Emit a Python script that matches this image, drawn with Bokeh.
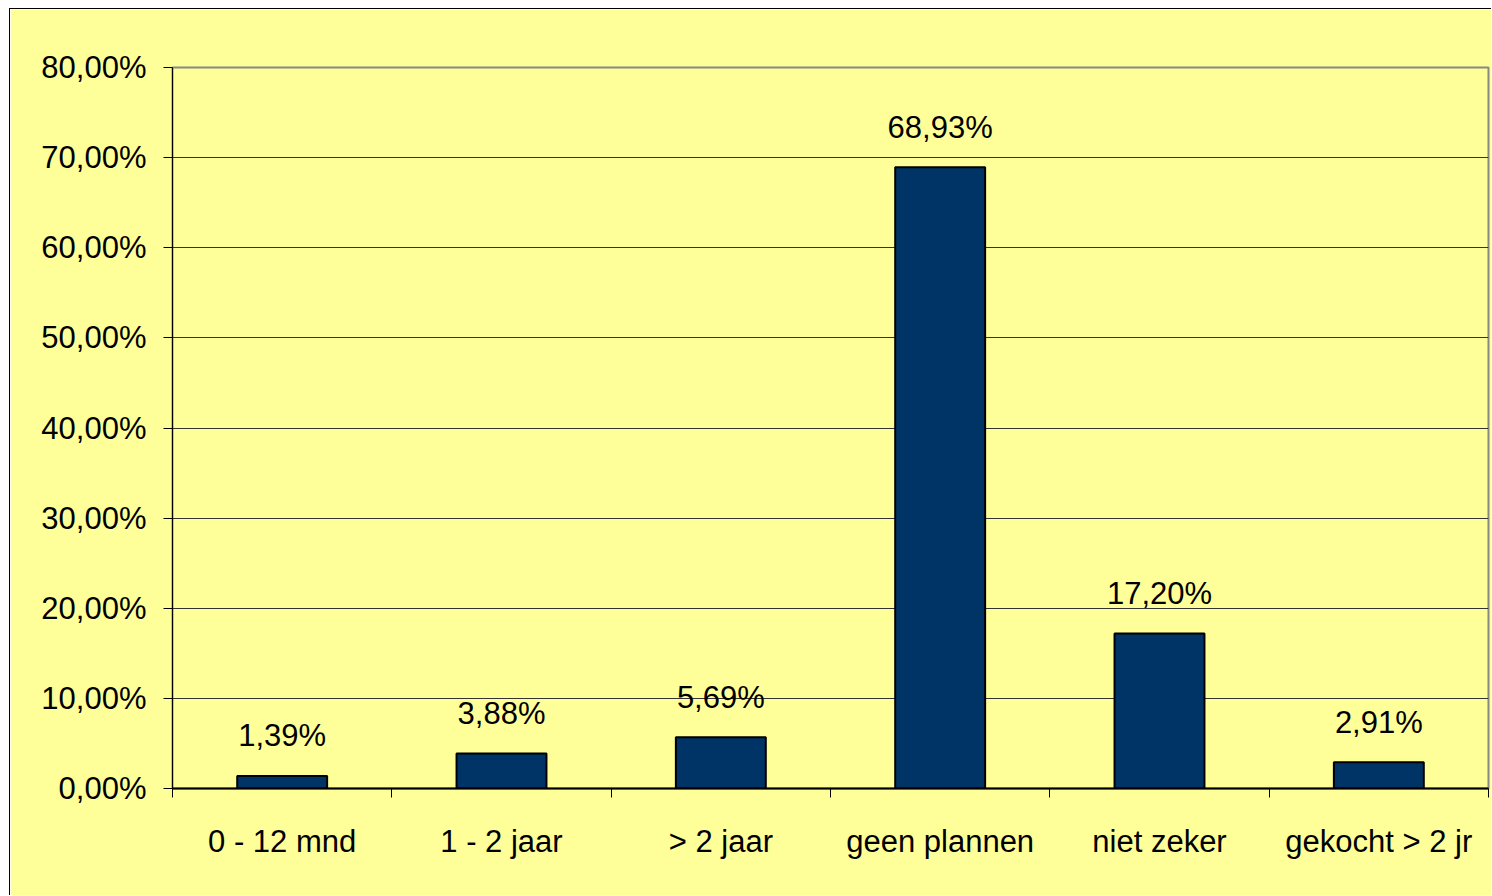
from bokeh.plotting import figure
from bokeh.models import ColumnDataSource, FixedTicker, CustomJSTickFormatter, Range1d
from bokeh.core.properties import value
from bokeh.embed import file_html
from bokeh.resources import INLINE

categories = ["0 - 12 mnd", "1 - 2 jaar", "> 2 jaar", "geen plannen", "niet zeker", "gekocht > 2 jr"]
values = [1.39, 3.88, 5.69, 68.93, 17.20, 2.91]
labels = ["1,39%", "3,88%", "5,69%", "68,93%", "17,20%", "2,91%"]
y_ticks = [0, 10, 20, 30, 40, 50, 60, 70, 80]

BG = "#FFFF99"
FONT = "Liberation Sans"
FS = "31px"

n = len(categories)
xpos = [i + 0.5 for i in range(n)]
src = ColumnDataSource(dict(x=xpos, cat=categories, val=values, lab=labels))

p = figure(x_range=Range1d(0, n), y_range=(0, 80), width=1482, height=887,
           output_backend="svg", toolbar_location=None,
           min_border_left=162, min_border_right=4, min_border_top=58, min_border_bottom=108)
p.styles = {"border-top": "1px solid black", "border-left": "1px solid black",
            "margin-left": "9px", "margin-top": "8px"}
p.background_fill_color = BG
p.border_fill_color = BG
p.outline_line_color = "#888888"
p.outline_line_width = 2

p.vbar(x="x", top="val", width=0.41, source=src, fill_color="#003366",
       line_color="black", line_width=2)
p.text(x="x", y="val", text="lab", source=src, text_align="center",
       text_baseline="alphabetic", y_offset=-40, text_font=value(FONT),
       text_font_size=FS, text_color="black")

p.yaxis.ticker = FixedTicker(ticks=y_ticks)
p.yaxis.formatter = CustomJSTickFormatter(code="return tick.toFixed(2).replace('.', ',') + '%';")
p.yaxis.major_label_text_font = FONT
p.yaxis.major_label_text_font_size = FS
p.yaxis.major_label_text_color = "black"
p.yaxis.major_label_standoff = 17
p.yaxis.major_tick_out = 9
p.yaxis.major_tick_in = 0
p.yaxis.minor_tick_line_color = None
p.yaxis.axis_line_color = "black"
p.yaxis.major_tick_line_color = "black"

p.xaxis.ticker = FixedTicker(ticks=xpos, minor_ticks=list(range(n + 1)))
p.xaxis.major_label_overrides = {x: c for x, c in zip(xpos, categories)}
p.xaxis.major_label_text_font = FONT
p.xaxis.major_label_text_font_size = FS
p.xaxis.major_label_text_color = "black"
p.xaxis.major_label_standoff = 26
p.xaxis.major_tick_line_color = None
p.xaxis.major_tick_out = 9
p.xaxis.major_tick_in = 0
p.xaxis.minor_tick_line_color = "black"
p.xaxis.minor_tick_out = 9
p.xaxis.minor_tick_in = 0
p.xaxis.axis_line_color = "black"
p.xaxis.axis_line_width = 2

p.xgrid.grid_line_color = None
p.ygrid.ticker = FixedTicker(ticks=y_ticks)
p.ygrid.grid_line_color = "#333333"
p.ygrid.grid_line_width = 1

open("out.html", "w").write(file_html(p, INLINE))
